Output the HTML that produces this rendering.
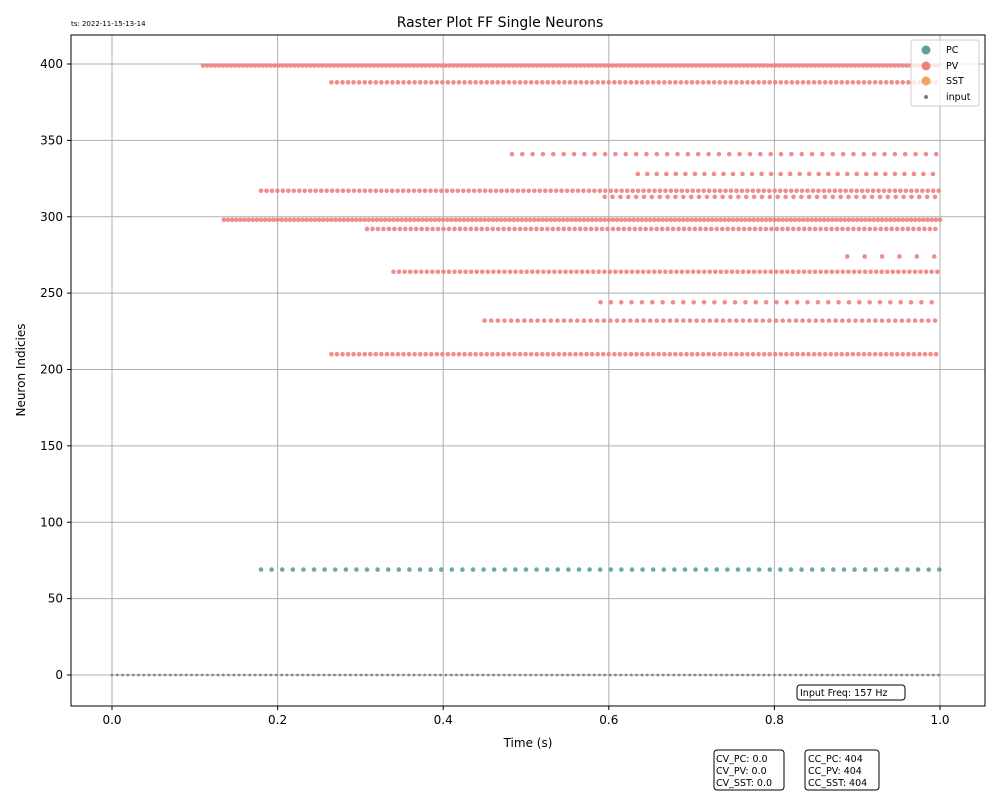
<!DOCTYPE html>
<html><head><meta charset="utf-8"><style>
body{margin:0;background:#fff;}
svg{font-family:"DejaVu Sans","Liberation Sans",sans-serif;display:block}
</style></head><body>
<svg id="chart" width="1000" height="800" viewBox="0 0 1000 800">
<rect width="1000" height="800" fill="#fff"/>
<g id="grid"></g>
<g id="marks"></g>
<rect x="71" y="35" width="914" height="671" fill="none" stroke="#000" stroke-width="1"/>
<g id="ticks"></g>
<text x="500" y="27" text-anchor="middle" font-size="14">Raster Plot FF Single Neurons</text>
<text x="71" y="26" font-size="7">ts: 2022-11-15-13-14</text>
<text x="528" y="747" text-anchor="middle" font-size="12">Time (s)</text>
<text transform="translate(25,370) rotate(-90)" text-anchor="middle" font-size="12">Neuron Indicies</text>
<g>
<rect x="911" y="40" width="68" height="66" rx="2" fill="#fff" fill-opacity="0.8" stroke="#ccc"/>
<circle cx="926" cy="50" r="4.5" fill="#5f9ea0"/><text x="946" y="53" font-size="9.5">PC</text>
<circle cx="926" cy="66" r="4.5" fill="#f08080"/><text x="946" y="69" font-size="9.5">PV</text>
<circle cx="926" cy="81" r="4.5" fill="#f4a460"/><text x="946" y="84" font-size="9.5">SST</text>
<circle cx="926" cy="97" r="2" fill="#708090"/><text x="946" y="100" font-size="9.5">input</text>
</g>
<g>
<rect x="797" y="685" width="108" height="15" rx="3" fill="#fff" stroke="#000"/>
<text x="800" y="696" font-size="9.5">Input Freq: 157 Hz</text>
</g>
<g>
<rect x="714" y="750" width="70" height="40" rx="3" fill="#fff" stroke="#000"/>
<text x="716" y="762" font-size="9.5">CV_PC: 0.0</text>
<text x="716" y="774" font-size="9.5">CV_PV: 0.0</text>
<text x="716" y="786" font-size="9.5">CV_SST: 0.0</text>
</g>
<g>
<rect x="805" y="750" width="74" height="40" rx="3" fill="#fff" stroke="#000"/>
<text x="808" y="762" font-size="9.5">CC_PC: 404</text>
<text x="808" y="774" font-size="9.5">CC_PV: 404</text>
<text x="808" y="786" font-size="9.5">CC_SST: 404</text>
</g>
</svg>
<script>
const xTicks=[0.0,0.2,0.4,0.6,0.8,1.0];
const xTickLabels=["0.0","0.2","0.4","0.6","0.8","1.0"];
const yTicks=[0,50,100,150,200,250,300,350,400];
const pvNeurons=[399,388,341,328,317,313,298,292,274,264,244,232,210];
const pvStarts=[0.11,0.265,0.483,0.635,0.18,0.595,0.135,0.308,0.888,0.34,0.59,0.45,0.265];
const pvIntervals=[0.0048,0.0067,0.0125,0.0115,0.0066,0.0095,0.005,0.0066,0.021,0.0067,0.0125,0.008,0.0067];
const pcNeurons=[69];
const pcStarts=[0.18];
const pcIntervals=[0.0128];
const inputNeurons=[0];
const inputStarts=[0.0];
const inputIntervals=[0.0064];
const tEnd=1.0;
const X=t=>112+t*828, Y=n=>675-n*1.5275;
const NS='http://www.w3.org/2000/svg';
const grid=document.getElementById('grid'),marks=document.getElementById('marks'),ticks=document.getElementById('ticks');
function mk(tag,attrs,parent){const e=document.createElementNS(NS,tag);for(const k in attrs)e.setAttribute(k,attrs[k]);parent.appendChild(e);return e;}
xTicks.forEach((v,i)=>{
  const g=mk('line',{x1:X(v),x2:X(v),y1:35,y2:706,stroke:'#b0b0b0','stroke-width':1},grid);
  
  
  mk('line',{x1:X(v),x2:X(v),y1:706,y2:710,stroke:'#000'},ticks);
  const t=mk('text',{x:X(v),y:724,'text-anchor':'middle','font-size':12},ticks);
  t.textContent=xTickLabels[i];
  
  
});
yTicks.forEach(v=>{
  const g=mk('line',{x1:71,x2:985,y1:Y(v),y2:Y(v),stroke:'#b0b0b0','stroke-width':1},grid);
  
  
  mk('line',{x1:67,x2:71,y1:Y(v),y2:Y(v),stroke:'#000'},ticks);
  const t=mk('text',{x:63,y:Y(v)+4,'text-anchor':'end','font-size':12},ticks);
  t.textContent=String(v);
  
  
});
function drawRows(ns,starts,ints,color,r,name){
  ns.forEach((n,i)=>{
    for(let t=starts[i];t<=tEnd+1e-9;t+=ints[i]){
      const c=mk('circle',{cx:X(t),cy:Y(n),r:r,fill:color,'fill-opacity':0.9},marks);
      
      
    }
  });
}
drawRows(pvNeurons,pvStarts,pvIntervals,'#f08080',2.3,'pv-spike');
drawRows(pcNeurons,pcStarts,pcIntervals,'#5f9ea0',2.3,'pc-spike');
drawRows(inputNeurons,inputStarts,inputIntervals,'#708090',1.4,'input-spike');
</script>
</body></html>
